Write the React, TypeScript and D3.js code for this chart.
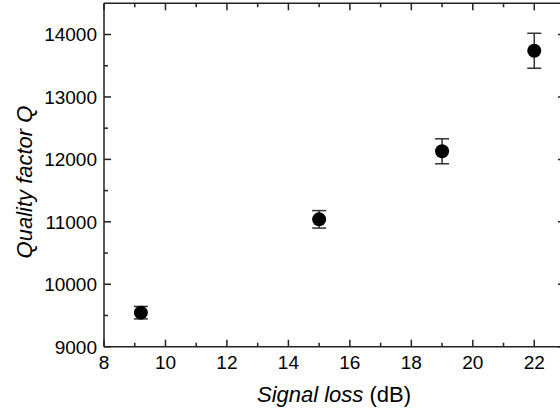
import React from "react";
import * as d3 from "d3";

const signalLoss = [9.2, 15, 19, 22];
const qualityFactor = [9545, 11040, 12130, 13740];
const qualityError = [100, 140, 200, 280];
const xTicks = [8, 10, 12, 14, 16, 18, 20, 22];
const yTicks = [9000, 10000, 11000, 12000, 13000, 14000];

const W = 560;
const H = 416;
const left = 104;
const right = 565;
const top = 3.3;
const bottom = 346.7;
const font = "'Liberation Sans', Arial, Helvetica, sans-serif";

export default function App() {
  const x = d3.scaleLinear().domain([8, 23]).range([left, right]);
  const y = d3.scaleLinear().domain([9000, 14500]).range([bottom, top]);
  const xMinor = d3.range(8, 23.01, 1).filter((v) => v % 2 !== 0);
  const yMinor = d3.range(9500, 14500, 1000);
  const axisColor = "#222";
  const majorLen = 7;
  const minorLen = 4;

  return (
    <div style={{ position: "fixed", left: 0, top: 0, width: W, height: H, background: "#fff" }}>
      <svg width={W} height={H} style={{ display: "block" }}>
        <g stroke={axisColor} strokeWidth={1.5} fill="none">
          <line x1={left} y1={bottom} x2={right} y2={bottom} />
          <line x1={left} y1={top} x2={right} y2={top} />
          <line x1={left} y1={top} x2={left} y2={bottom} />
          <line x1={right} y1={top} x2={right} y2={bottom} />
          {xTicks.map((t) => (
            <g key={"xt" + t}>
              <line x1={x(t)} x2={x(t)} y1={bottom} y2={bottom - majorLen} />
              <line x1={x(t)} x2={x(t)} y1={top} y2={top + majorLen} />
            </g>
          ))}
          {xMinor.map((t) => (
            <g key={"xm" + t}>
              <line x1={x(t)} x2={x(t)} y1={bottom} y2={bottom - minorLen} />
              <line x1={x(t)} x2={x(t)} y1={top} y2={top + minorLen} />
            </g>
          ))}
          {yTicks.map((t) => (
            <g key={"yt" + t}>
              <line x1={left} x2={left + majorLen} y1={y(t)} y2={y(t)} />
              <line x1={right} x2={right - majorLen} y1={y(t)} y2={y(t)} />
            </g>
          ))}
          {yMinor.map((t) => (
            <g key={"ym" + t}>
              <line x1={left} x2={left + minorLen} y1={y(t)} y2={y(t)} />
              <line x1={right} x2={right - minorLen} y1={y(t)} y2={y(t)} />
            </g>
          ))}
        </g>
        <g fontFamily={font} fontSize={19} fill="#000">
          {xTicks.map((t) => (
            <text key={"xl" + t} x={x(t)} y={bottom + 22.5} textAnchor="middle">
              {t}
            </text>
          ))}
          {yTicks.map((t) => (
            <text key={"yl" + t} x={left - 7} y={y(t) + 6.8} textAnchor="end">
              {t}
            </text>
          ))}
        </g>
        <g>
          {signalLoss.map((v, i) => {
            const cx = x(v);
            const cy = y(qualityFactor[i]);
            const y1 = y(qualityFactor[i] + qualityError[i]);
            const y2 = y(qualityFactor[i] - qualityError[i]);
            return (
              <g key={"p" + i}>
                <g stroke="#333" strokeWidth={1.5}>
                  <line x1={cx} x2={cx} y1={y1} y2={y2} />
                  <line x1={cx - 7} x2={cx + 7} y1={y1} y2={y1} />
                  <line x1={cx - 7} x2={cx + 7} y1={y2} y2={y2} />
                </g>
                <circle cx={cx} cy={cy} r={7} fill="#000" />
              </g>
            );
          })}
        </g>
        <text x={334} y={401.5} textAnchor="middle" fontFamily={font} fontSize={22}>
          <tspan fontStyle="italic">Signal loss</tspan>
          <tspan> (dB)</tspan>
        </text>
        <text
          transform={`translate(32, 182) rotate(-90)`}
          textAnchor="middle"
          fontFamily={font}
          fontSize={22}
          fontStyle="italic"
        >
          Quality factor Q
        </text>
      </svg>
    </div>
  );
}
